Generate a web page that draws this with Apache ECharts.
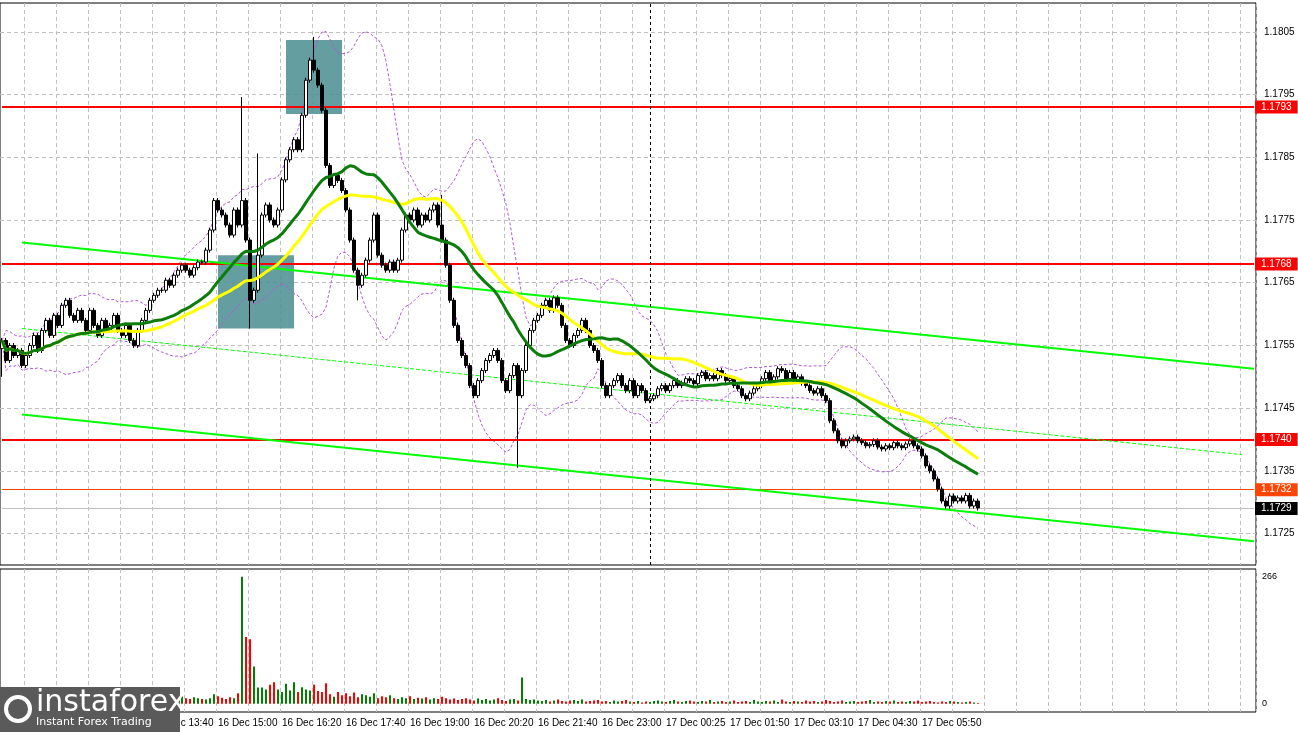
<!DOCTYPE html>
<html><head><meta charset="utf-8">
<script src="https://cdn.jsdelivr.net/npm/echarts@6/dist/echarts.min.js"></script>
<style>html,body{margin:0;padding:0;background:#fff}#c{width:1298px;height:732px}</style>
</head><body><div id="c"></div>
<script>
const closes = [
1.17558,1.17526,1.1755,1.17534,1.17542, 1.17518,1.17534,1.1755,1.17566,1.17542,
1.17574,1.1759,1.17566,1.17598,1.17582, 1.17614,1.17622,1.17598,1.1759,1.17606,
1.1759,1.17574,1.17606,1.17582,1.17566, 1.1759,1.17574,1.17582,1.17598,1.17574,
1.17566,1.17582,1.17558,1.1755,1.17574, 1.1759,1.17606,1.17622,1.1763,1.17638,
1.17638,1.17654,1.17646,1.17662,1.1767, 1.17678,1.1767,1.17662,1.17674,1.17683,
1.17683,1.17702,1.17734,1.17781,1.17766, 1.17758,1.17742,1.17726,1.17766,1.17742,
1.17781,1.17718,1.17622,1.17638,1.17694, 1.17758,1.17774,1.1775,1.17742,1.17766,
1.17814,1.17846,1.17862,1.17878,1.17862, 1.17917,1.17973,1.18005,1.17989,1.17965,
1.17925,1.17837,1.17805,1.17821,1.17813, 1.17797,1.17766,1.17718,1.1767,1.17646,
1.17662,1.17686,1.17718,1.17758,1.17694, 1.17678,1.1767,1.17683,1.1767,1.17686,
1.17734,1.17758,1.1775,1.17766,1.17742, 1.17758,1.1775,1.17766,1.17774,1.17742,
1.17718,1.17678,1.17622,1.17582,1.17558, 1.17534,1.17518,1.17486,1.1747,1.17494,
1.1751,1.17526,1.17534,1.17542,1.17526, 1.17494,1.17478,1.17502,1.17518,1.1747,
1.1751,1.1755,1.17574,1.1759,1.17598, 1.17614,1.17622,1.17606,1.17626,1.17614,
1.17582,1.17558,1.1755,1.17566,1.17574, 1.1759,1.17574,1.1755,1.17542,1.17526,
1.17486,1.1747,1.17486,1.17494,1.17502, 1.17486,1.17478,1.17494,1.1747,1.17486,
1.17478,1.17462,1.17465,1.1747,1.17481, 1.17486,1.17478,1.17486,1.17494,1.17486,
1.1749,1.17497,1.17494,1.17489,1.17502, 1.17507,1.17497,1.17502,1.17497,1.1751,
1.17502,1.17494,1.17497,1.17486,1.17481, 1.1747,1.17465,1.17474,1.17481,1.17486,
1.17497,1.17507,1.17494,1.175,1.17513, 1.1751,1.17497,1.17507,1.17494,1.175,
1.1749,1.17486,1.17478,1.17474,1.17481, 1.1747,1.17462,1.1743,1.17414,1.17398,
1.1739,1.17398,1.17401,1.17404,1.17398, 1.17395,1.1739,1.17392,1.17398,1.17388,
1.17385,1.1739,1.17387,1.17395,1.1739, 1.17387,1.17393,1.17398,1.1739,1.17385,
1.17374,1.17358,1.1735,1.17337,1.17321, 1.17302,1.17294,1.1731,1.17302,1.17307,
1.17302,1.17311,1.17294,1.17302,1.17291];
const firstOpen = 1.17545;
// notable wicks: [bar, high, low]
const wicks = [[60,1.17946,null],[62,null,1.17577],[64,1.17856,null],[78,1.18042,null],[89,null,1.17622],[129,null,1.17355],[0,null,1.17500],[110,1.17790,null]];
const volumes = [
18,15,20,14,16, 12,18,15,13,17, 20,14,16,12,18, 15,13,17,14,16,
12,15,18,14,13, 16,12,14,17,15, 13,16,12,14,18, 15,20,17,14,16,
12,15,18,14,13, 16,12,10,14,12, 10,9,12,20,16, 13,10,14,12,22,
266,140,135,78,34, 34,30,40,45,30, 25,42,28,45,25, 35,30,28,40,27,
25,43,20,15,25, 18,22,16,24,14, 20,18,15,22,12, 16,14,18,12,10,
14,12,16,10,13, 11,14,9,12,10, 15,12,9,11,8, 10,12,9,7,11,
8,10,7,9,12, 8,6,9,10,7, 55,10,8,9,7, 6,8,5,7,9,
6,5,7,8,6, 9,5,6,7,8, 5,6,4,7,5, 6,8,5,4,6,
3,5,4,6,7, 5,4,6,8,5, 4,6,7,5,4, 6,5,8,4,5,
6,4,5,7,4, 5,6,4,8,5, 4,6,5,7,4, 9,5,4,6,5,
4,7,5,6,4, 5,8,6,4,5, 7,4,5,6,4, 5,6,8,4,5,
4,6,5,7,4, 5,4,6,5,7, 4,5,6,4,3, 5,4,6,5,4,
3,4,5,3,2];
const tickBars = [6,22,38,54,70,86,102,118,134,150,166,182,198,214,230];
const tickLabels = ['16 Dec 11:00','16 Dec 12:20','16 Dec 13:40','16 Dec 15:00','16 Dec 16:20','16 Dec 17:40','16 Dec 19:00','16 Dec 20:20','16 Dec 21:40','16 Dec 23:00','17 Dec 00:25','17 Dec 01:50','17 Dec 03:10','17 Dec 04:30','17 Dec 05:50'];
const priceTicks = [1.1725,1.1735,1.1745,1.1755,1.1765,1.1775,1.1785,1.1795,1.1805];
const levels = [1.1793,1.1768,1.1740];
const bidLevel = 1.1732, lastLevel = 1.1729;
const trendUpper = [[5,1.17714],[313,1.17513]];
const trendLower = [[5,1.17440],[313,1.17238]];
const trendMid = [[5,1.17577],[310,1.17376]];
const boxes = [[54,73,1.17694,1.17577],[71,85,1.18037,1.17919]];
const NCAT = 314;

const cats = Array.from({length:NCAT},(_,i)=>String(i));
const candles = [], vol = [];
let prev = firstOpen;
closes.forEach((c,i)=>{
  const o = prev;
  let hi = Math.max(o,c)+0.00004, lo = Math.min(o,c)-0.00004;
  wicks.forEach(w=>{ if(w[0]===i){ if(w[1]!=null) hi=w[1]; if(w[2]!=null) lo=w[2]; }});
  candles.push([o,c,lo,hi]);
  vol.push({value:volumes[i], itemStyle:{color: c>o ? '#008000' : '#ff0000'}});
  prev = c;
});
function sma(n){ return closes.map((_,i)=>{ const s=Math.max(0,i-n+1); let t=0; for(let k=s;k<=i;k++) t+=closes[k]; return +(t/(i-s+1)).toFixed(6);}); }
function band(n,m){ return closes.map((_,i)=>{ const s=Math.max(0,i-n+1); let t=0,c=i-s+1; for(let k=s;k<=i;k++) t+=closes[k]; const mu=t/c; let v=0; for(let k=s;k<=i;k++) v+=(closes[k]-mu)**2; return +(mu+m*Math.sqrt(v/c)).toFixed(6);}); }
const maFast = sma(24), maSlow = sma(40), bbU = band(20,2), bbL = band(20,-2);

const font = 'Liberation Sans';
const lastCat = String(NCAT-1);
function hl(v,color,width,bg){
  return [{coord:['0',v],lineStyle:{color:color,width:width,type:'solid'},
    label:{show:true,position:'end',formatter:v.toFixed(4),color:'#fff',backgroundColor:bg,padding:[2,6,1,6],fontSize:10,fontFamily:font,distance:1}},
    {coord:[lastCat,v]}];
}
const seg = (p,style)=>[{coord:[String(p[0][0]),p[0][1]],lineStyle:style,label:{show:false}},{coord:[String(p[1][0]),p[1][1]]}];
const lines = levels.map(v=>hl(v,'#ff0000',2,'#ff0000')).concat([
  hl(bidLevel,'#ff4500',1,'#ff4500'),
  hl(lastLevel,'#c0c0c0',1,'#000'),
  seg(trendUpper,{color:'#00ff00',width:2,type:'solid'}),
  seg(trendLower,{color:'#00ff00',width:2,type:'solid'}),
  seg(trendMid,{color:'#00ff00',width:1,type:'dashed'}),
  [{coord:['162',1.17200],lineStyle:{color:'#000',width:1,type:[3,3]},label:{show:false}},{coord:['162',1.18096]}]
]);

const chart = echarts.init(document.getElementById('c'),null,{renderer:'canvas'});
const splitX = {show:true,interval:(i)=>i>=6&&(i-6)%8===0,lineStyle:{color:'#c0c0c0',type:[4,3]}};
chart.setOption({
  animation:false, backgroundColor:'#fff',
  grid:[{left:0,top:3,width:1256,height:562,show:true,borderColor:'#000',borderWidth:1},
        {left:0,top:569,width:1256,height:143,show:true,borderColor:'#000',borderWidth:1}],
  xAxis:[
    {type:'category',data:cats,gridIndex:0,axisLine:{show:false},axisTick:{show:false},axisLabel:{show:false},splitLine:splitX},
    {type:'category',data:cats,gridIndex:1,axisLine:{show:false},axisTick:{show:false},splitLine:splitX,
     axisLabel:{show:true,interval:(i)=>tickBars.includes(i),formatter:(v,i)=>{const k=tickBars.indexOf(+v);return k>=0?tickLabels[k]:'';},
       align:'left',margin:6,fontSize:10,fontFamily:font,color:'#000'}}
  ],
  yAxis:[
    {type:'value',gridIndex:0,position:'right',min:1.17200,max:1.18096,axisLine:{show:false},
     axisTick:{show:false,customValues:priceTicks},
     splitLine:{show:true,lineStyle:{color:'#c0c0c0',type:[4,3]}},
     axisLabel:{customValues:priceTicks,formatter:v=>v.toFixed(4),fontSize:10,fontFamily:font,color:'#000',margin:8}},
    {type:'value',gridIndex:1,position:'right',min:-17,max:282,axisLine:{show:false},axisTick:{show:false,customValues:[0,266]},splitLine:{show:false},
     axisLabel:{customValues:[0,266],fontSize:9,fontFamily:font,color:'#000',margin:6}}
  ],
  series:[
    {type:'line',data:bbU,symbol:'none',lineStyle:{color:'#b15ad8',width:1,type:[3,2]},z:2},
    {type:'line',data:bbL,symbol:'none',lineStyle:{color:'#b15ad8',width:1,type:[3,2]},z:2},
    {type:'candlestick',data:candles,barWidth:3,z:5,
     itemStyle:{color:'#fff',color0:'#000',borderColor:'#000',borderColor0:'#000',borderWidth:1},
     markLine:{symbol:'none',silent:true,animation:false,data:lines},
     markArea:{silent:true,itemStyle:{color:'rgba(80,145,148,0.88)'},data:boxes.map(b=>[{xAxis:String(b[0]),yAxis:b[2]},{xAxis:String(b[1]),yAxis:b[3]}])}},
    {type:'line',data:maSlow,symbol:'none',lineStyle:{color:'#ffff00',width:3},z:6},
    {type:'line',data:maFast,symbol:'none',lineStyle:{color:'#0a7d0a',width:3},z:7},
    {type:'bar',xAxisIndex:1,yAxisIndex:1,data:vol,barWidth:2}
  ],
  graphic:[
    {type:'rect',left:0,top:687,shape:{width:180,height:45},style:{fill:'#5a5a5a'},z:100},
    {type:'text',left:36,top:688,style:{text:'instaforex',fill:'#fff',font:'30px "DejaVu Sans"'},z:101},
    {type:'text',left:36,top:717,style:{text:'Instant Forex Trading',fill:'#fff',font:'11px "DejaVu Sans"'},z:101},
    {type:'circle',shape:{cx:18,cy:709,r:12},style:{fill:'none',stroke:'#fff',lineWidth:4},z:101}
  ]
});
</script></body></html>
